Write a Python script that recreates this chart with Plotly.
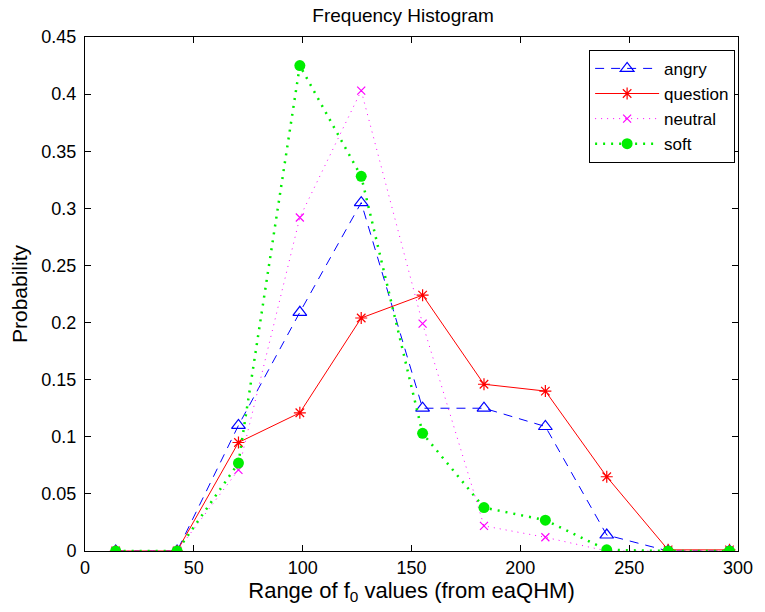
import plotly.graph_objects as go

# Bin centres of the f0-range histogram
bin_centers = [14.1, 42.3, 70.5, 98.7, 126.9, 155.1, 183.3, 211.5, 239.7, 267.9, 296.1]

# Normalised histogram values per emotion
angry = [0, 0, 0.110, 0.209, 0.305, 0.125, 0.125, 0.109, 0.014, 0, 0]
question = [0, 0, 0.095, 0.121, 0.204, 0.224, 0.146, 0.140, 0.065, 0.001, 0.001]
neutral = [0, 0, 0.071, 0.292, 0.403, 0.199, 0.022, 0.012, 0, 0, 0]
soft = [0, 0, 0.077, 0.425, 0.328, 0.103, 0.038, 0.027, 0.001, 0, 0]

x_ticks = [0, 50, 100, 150, 200, 250, 300]
y_ticks = [0, 0.05, 0.1, 0.15, 0.2, 0.25, 0.3, 0.35, 0.4, 0.45]
y_tick_text = ["0", "0.05", "0.1", "0.15", "0.2", "0.25", "0.3", "0.35", "0.4", "0.45"]

FONT = "Liberation Sans, Arial, Helvetica, sans-serif"

fig = go.Figure()

fig.add_trace(go.Scatter(
    x=bin_centers, y=angry, name="angry", mode="lines+markers",
    line=dict(color="#0000ff", width=1, dash="9px,7px"),
    marker=dict(symbol="triangle-up-open", size=12, color="#0000ff",
                line=dict(color="#0000ff", width=1.2)),
))
fig.add_trace(go.Scatter(
    x=bin_centers, y=question, name="question", mode="lines+markers",
    line=dict(color="#ff0000", width=1),
    marker=dict(symbol="asterisk-open", size=10, color="#ff0000",
                line=dict(color="#ff0000", width=1.2)),
))
fig.add_trace(go.Scatter(
    x=bin_centers, y=neutral, name="neutral", mode="lines+markers",
    line=dict(color="#ff00ff", width=1, dash="1px,5px"),
    marker=dict(symbol="x-thin-open", size=8, color="#ff00ff",
                line=dict(color="#ff00ff", width=1.2)),
))
fig.add_trace(go.Scatter(
    x=bin_centers, y=soft, name="soft", mode="lines+markers",
    line=dict(color="#00ee00", width=2.5, dash="2px,6px"),
    marker=dict(symbol="circle", size=11, color="#00ee00",
                line=dict(width=0)),
))

axis_common = dict(
    showline=True, linecolor="black", linewidth=1, mirror="ticks",
    ticks="inside", ticklen=6, tickcolor="black", showgrid=False,
    zeroline=False, tickfont=dict(family=FONT, size=18, color="black"),
)

fig.update_layout(
    width=765, height=612,
    margin=dict(l=85, r=18, t=37, b=61),
    paper_bgcolor="white", plot_bgcolor="white",
    title=dict(text="Frequency Histogram", x=0.527, xanchor="center",
               y=0.975, yanchor="middle",
               font=dict(family=FONT, size=19, color="black")),
    xaxis=dict(range=[0, 300], tickvals=x_ticks,
               title=dict(text="Range of f<sub>0</sub> values (from eaQHM)",
                          font=dict(family=FONT, size=22, color="black"),
                          standoff=5),
               **axis_common),
    yaxis=dict(range=[0, 0.45], tickvals=y_ticks, ticktext=y_tick_text,
               ticklabelstandoff=4,
               title=dict(text="Probability",
                          font=dict(family=FONT, size=21, color="black"),
                          standoff=8),
               **axis_common),
    legend=dict(x=0.772, y=0.975, xanchor="left", yanchor="top",
                bgcolor="white", bordercolor="black", borderwidth=1,
                font=dict(family=FONT, size=17, color="black"),
                tracegroupgap=0, itemwidth=64),
    showlegend=True,
)

fig.write_html("out.html")
